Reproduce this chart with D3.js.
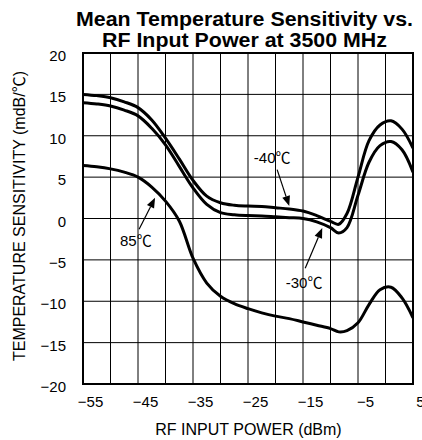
<!DOCTYPE html>
<html><head><meta charset="utf-8">
<script src="https://cdn.jsdelivr.net/npm/d3@7"></script>
<style>
body{margin:0;background:#fff}
svg{display:block}
text{font-family:"Liberation Sans",Arial,Helvetica,"Noto Sans CJK JP",sans-serif;fill:#000}
</style>
</head><body>
<svg id="c" width="422" height="440"></svg>
<script>
// ---- data ----
const titleLines = ["Mean Temperature Sensitivity vs.", "RF Input Power at 3500 MHz"];
const xTitle = "RF INPUT POWER (dBm)";
const yTitle = "TEMPERATURE SENSITIVITY (mdB/℃)";
const xTickLabels = [-55, -45, -35, -25, -15, -5, 5];
const yTickLabels = [-20, -15, -10, -5, 0, 5, 10, 15, 20];
const xGrid = [-55, -50, -45, -40, -35, -30, -25, -20, -15, -10, -5, 0, 5];
const yGrid = [-20, -15, -10, -5, 0, 5, 10, 15, 20];

const power = [-55, -52.5, -50, -47.5, -45, -42.5, -40, -37.5, -35, -32.5, -30, -27.5, -25, -22.5, -20, -17.5, -15, -12.5, -10, -8.5, -7, -5, -3, -1, 1, 3, 5];
const sensM40 = [15.0, 14.85, 14.6, 14.1, 13.4, 11.9, 9.7, 7.2, 4.6, 2.7, 1.9, 1.6, 1.5, 1.45, 1.3, 1.15, 0.9, 0.35, -0.35, -0.7, 0.6, 5.0, 9.4, 11.3, 11.8, 10.8, 8.5];
const sensM30 = [14.0, 13.85, 13.6, 13.1, 12.4, 10.9, 8.9, 6.3, 3.7, 1.7, 0.7, 0.45, 0.35, 0.3, 0.2, 0.1, 0.0, -0.4, -1.1, -1.75, -1.1, 2.8, 6.8, 8.8, 9.3, 8.3, 5.6];
const sens85 = [6.4, 6.25, 6.0, 5.6, 5.0, 3.8, 2.1, -0.3, -4.8, -7.8, -9.4, -10.3, -10.9, -11.4, -11.8, -12.1, -12.5, -12.9, -13.3, -13.7, -13.55, -12.6, -10.4, -8.6, -8.3, -9.6, -12.0];

// annotations in data units: label position, arrow start, arrow tip
const annLabels = ["-40℃", "-30℃", "85℃"];
const annLabelX = [-20.6, -14.8, -45.4];
const annLabelY = [7.4, -7.7, -2.7];
const annFromX = [-19.7, -14.6, -44.8];
const annFromY = [5.9, -6.0, -1.3];
const annToX = [-17.5, -11.5, -41.9];
const annToY = [1.5, -1.15, 2.5];

// ---- chart ----
const svg = d3.select("#c");
const L = 83, R = 413, T = 53, B = 384;
const x = d3.scaleLinear().domain([-55, 5]).range([L, R]);
const y = d3.scaleLinear().domain([-20, 20]).range([B, T]);

// title
svg.append("text").attr("x", 244.5).attr("y", 26).attr("text-anchor", "middle")
  .attr("font-size", 20).attr("font-weight", "bold")
  .attr("textLength", 337).attr("lengthAdjust", "spacingAndGlyphs").text(titleLines[0]);
svg.append("text").attr("x", 244.5).attr("y", 46.5).attr("text-anchor", "middle")
  .attr("font-size", 20).attr("font-weight", "bold")
  .attr("textLength", 285).attr("lengthAdjust", "spacingAndGlyphs").text(titleLines[1]);

// grid
const g = svg.append("g");
g.selectAll("line.vx").data(xGrid).join("line")
  .attr("x1", d => x(d)).attr("x2", d => x(d)).attr("y1", T).attr("y2", B)
  .attr("stroke", "#000").attr("stroke-width", 1);
g.selectAll("line.hy").data(yGrid).join("line")
  .attr("y1", d => y(d)).attr("y2", d => y(d)).attr("x1", L).attr("x2", R)
  .attr("stroke", "#000").attr("stroke-width", 1);

// curves
svg.append("clipPath").attr("id", "clip").append("rect")
  .attr("x", L).attr("y", T).attr("width", R - L).attr("height", B - T);
const line = d3.line().x(d => x(d[0])).y(d => y(d[1])).curve(d3.curveCatmullRom.alpha(0.5));
const series = [sensM40, sensM30, sens85];
svg.append("g").attr("clip-path", "url(#clip)").selectAll("path").data(series).join("path")
  .attr("d", s => line(power.map((p, i) => [p, s[i]])))
  .attr("fill", "none").attr("stroke", "#000").attr("stroke-width", 3).attr("stroke-linejoin", "round");

// frame
svg.append("rect").attr("x", L).attr("y", T).attr("width", R - L).attr("height", B - T)
  .attr("fill", "none").attr("stroke", "#000").attr("stroke-width", 2);

// axes
const xAxis = d3.axisBottom(x).tickValues(xTickLabels).tickSize(0).tickPadding(0).tickFormat(d3.format("d"));
const xa = svg.append("g").attr("transform", `translate(7,${B})`).call(xAxis);
xa.select(".domain").remove();
xa.selectAll("text").attr("y", 23).attr("dy", null).attr("font-size", 15)
  .attr("font-family", "'Liberation Sans',Arial,sans-serif").attr("fill", "#000");

const yAxis = d3.axisLeft(y).tickValues(yTickLabels).tickSize(0).tickPadding(0).tickFormat(d3.format("d"));
const ya = svg.append("g").attr("transform", `translate(${L - 17},0)`).call(yAxis);
ya.select(".domain").remove();
ya.selectAll("text").attr("x", 0).attr("dy", "0.5em").attr("font-size", 15)
  .attr("font-family", "'Liberation Sans',Arial,sans-serif").attr("fill", "#000");

// axis titles
svg.append("text").attr("x", 248.5).attr("y", 435).attr("text-anchor", "middle")
  .attr("font-size", 16).text(xTitle);
svg.append("text").attr("transform", "translate(25,216) rotate(-90)").attr("text-anchor", "middle")
  .attr("font-size", 16).text(yTitle);

// annotations
const ann = svg.append("g");
annLabels.forEach((t, i) => {
  ann.append("text").attr("x", x(annLabelX[i])).attr("y", y(annLabelY[i])).attr("dy", "0.36em")
    .attr("text-anchor", "middle").attr("font-size", 15).text(t);
  const x1 = x(annFromX[i]), y1 = y(annFromY[i]), x2 = x(annToX[i]), y2 = y(annToY[i]);
  const ang = Math.atan2(y2 - y1, x2 - x1);
  const hl = 10, hw = 4;
  const bx = x2 - hl * Math.cos(ang), by = y2 - hl * Math.sin(ang);
  ann.append("line").attr("x1", x1).attr("y1", y1).attr("x2", bx).attr("y2", by)
    .attr("stroke", "#000").attr("stroke-width", 1.2);
  const px = -Math.sin(ang), py = Math.cos(ang);
  ann.append("path").attr("d", `M${x2},${y2}L${bx + px * hw},${by + py * hw}L${bx - px * hw},${by - py * hw}Z`)
    .attr("fill", "#000");
});
</script>
</body></html>
